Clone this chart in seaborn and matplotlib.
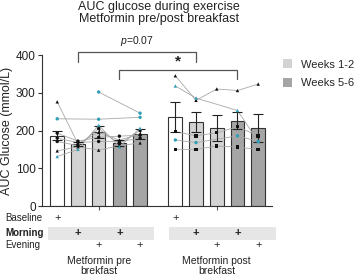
import numpy as np
import pandas as pd
import matplotlib.pyplot as plt
import matplotlib.transforms as mtransforms
from matplotlib.patches import Patch, Rectangle
import seaborn as sns

sns.set_style("ticks")
plt.rcParams['font.family'] = ['Liberation Sans', 'DejaVu Sans']
plt.rcParams['mathtext.fontset'] = 'custom'
plt.rcParams['mathtext.it'] = 'Liberation Sans:italic'
plt.rcParams['mathtext.rm'] = 'Liberation Sans'

# conditions in each group: baseline, weeks 1-2 morning/evening, weeks 5-6 morning/evening
conditions = ["Baseline", "W12 morning", "W12 evening", "W56 morning", "W56 evening"]
group_labels = ["Metformin pre\nbrekfast", "Metformin post\nbrekfast"]

# bar means and error bar ends (mmol/L)
pre_mean = [186, 164, 195, 166, 192]
pre_low = [175, 158, 180, 160, 178]
pre_high = [200, 170, 212, 175, 205]
post_mean = [237, 222, 206, 224, 206]
post_low = [195, 197, 172, 204, 169]
post_high = [275, 250, 240, 248, 245]

# individual participants, pre breakfast group
pre_s1 = [276, 165, 195, 175, 190]
pre_s2 = [231, np.nan, 230, np.nan, 235]
pre_s3 = [np.nan, np.nan, 302, np.nan, 246]
pre_s4 = [193, 172, 182, 185, 188]
pre_s5 = [180, 168, 171, 170, 180]
pre_s6 = [171, 160, 205, 165, 200]
pre_s7 = [146, 157, 148, 160, 167]
pre_s8 = [131, 150, 214, 157, 206]
# individual participants, post breakfast group
post_s1 = [345, 280, 310, 306, 323]
post_s2 = [318, 286, np.nan, 253, 171]
post_s3 = [197, 186, 194, 210, 186]
post_s4 = [175, 168, np.nan, 186, 171]
post_s5 = [150, 150, 159, 156, 150]

pre_subjects = [pre_s1, pre_s2, pre_s3, pre_s4, pre_s5, pre_s6, pre_s7, pre_s8]
post_subjects = [post_s1, post_s2, post_s3, post_s4, post_s5]
pre_style = [("k", "^"), ("t", "o"), ("t", "o"), ("k", "o"), ("k", "o"),
             ("k", "o"), ("k", "^"), ("t", "^")]
post_style = [("k", "^"), ("t", "^"), ("k", "s"), ("t", "o"), ("k", "s")]

# x positions: bars 1 unit apart, gap between the groups
pos_pre = np.arange(5) * 1.0
pos_post = np.arange(5) + 5.7
positions = np.concatenate([pos_pre, pos_post])

bars = pd.DataFrame({
    "pos": positions,
    "mean": pre_mean + post_mean,
    "cond": conditions * 2,
})

rows = []
for g, (subs, styles, pos) in enumerate([(pre_subjects, pre_style, pos_pre),
                                         (post_subjects, post_style, pos_post)]):
    for i, (vals, (c, m)) in enumerate(zip(subs, styles)):
        for p, v in zip(pos, vals):
            rows.append({"subj": f"{g}_{i}", "pos": p, "val": v, "col": c, "mk": m})
pts = pd.DataFrame(rows)

bar_colors = {"Baseline": "white", "W12 morning": "#d3d3d3", "W12 evening": "#d3d3d3",
              "W56 morning": "#a5a5a5", "W56 evening": "#a5a5a5"}

fig = plt.figure(figsize=(3.58, 2.76), dpi=100)
ax = fig.add_axes([0.117, 0.2536, 0.643, 0.547])

sns.barplot(data=bars, x="pos", y="mean", hue="cond", palette=bar_colors,
            native_scale=True, dodge=False, width=0.66, errorbar=None,
            edgecolor="#333333", linewidth=0.8, legend=False, ax=ax, zorder=1)

lines = pts.dropna()
sns.lineplot(data=lines, x="pos", y="val", units="subj", estimator=None,
             color="#a8a8a8", lw=0.6, sort=True, ax=ax, zorder=2, legend=False)

low = np.array(pre_low + post_low)
high = np.array(pre_high + post_high)
means = np.array(pre_mean + post_mean)
ax.errorbar(positions, means, yerr=[means - low, high - means], fmt="none",
            ecolor="#222222", elinewidth=0.8, capsize=3.5, capthick=0.8, zorder=3)

sns.scatterplot(data=lines, x="pos", y="val", hue="col", style="mk",
                palette={"k": "#111111", "t": "#2f9fb5"},
                markers={"o": "o", "^": "^", "s": "s"}, s=6, linewidth=0,
                legend=False, ax=ax, zorder=4)

ax.set_xlim(-0.74, 10.37)
ax.set_ylim(0, 400)
ax.set_yticks([0, 100, 200, 300, 400])
ax.set_xticks([2, 7.7])
ax.set_xticklabels([])
ax.tick_params(axis="y", labelsize=8.5, length=3, width=0.8, pad=1.5, colors="#333333",
               labelcolor="#222222")
ax.tick_params(axis="x", length=3, width=0.8, colors="#555555")
ax.set_xlabel("")
ax.set_ylabel("AUC Glucose (mmol/L)", fontsize=9, labelpad=2, color="#222222")
sns.despine(ax=ax)
for s in ["left", "bottom"]:
    ax.spines[s].set_linewidth(0.8)
    ax.spines[s].set_color("#333333")

# significance brackets
bc = "#555555"
ax.plot([1, 1, 6.7, 6.7], [381, 409, 409, 381], color=bc, lw=0.9, clip_on=False)
ax.text(3.85, 436, "$\\it{p}$=0.07", ha="center", va="center", fontsize=7.5, color="#222222")
ax.plot([3, 3, 8.7, 8.7], [337, 361, 361, 337], color=bc, lw=0.9, clip_on=False)
ax.text(5.85, 383, "*", ha="center", va="center", fontsize=11, fontweight="bold", color="#222222")

# condition table below the axis
tr = mtransforms.blended_transform_factory(ax.transData, fig.transFigure)
for x0, x1 in [(-0.45, 4.67), (5.4, 10.57)]:
    ax.add_patch(Rectangle((x0, 0.130), x1 - x0, 0.049, transform=tr,
                           color="#e6e6e6", clip_on=False, zorder=0, lw=0))
fig.text(0.014, 0.21, "Baseline", fontsize=7, va="center", color="#222222")
fig.text(0.014, 0.157, "Morning", fontsize=7, va="center", fontweight="bold", color="#222222")
fig.text(0.014, 0.112, "Evening", fontsize=7, va="center", color="#222222")
rows_y = {"Baseline": 0.21, "morning": 0.157, "evening": 0.112}
for pos in [pos_pre, pos_post]:
    for p, c in zip(pos, conditions):
        key = "Baseline" if c == "Baseline" else c.split()[1]
        ax.text(p, rows_y[key], "+", transform=tr, ha="center", va="center",
                fontsize=8, fontweight="bold" if key == "morning" else "normal",
                color="#222222", clip_on=False)
for pos, lab in zip([pos_pre, pos_post], group_labels):
    ax.text(pos[2], 0.035, lab, transform=tr, ha="center", va="center",
            fontsize=7.5, linespacing=1.0, color="#222222")

fig.text(0.445, 0.995, "AUC glucose during exercise\nMetformin pre/post breakfast",
         ha="center", va="top", fontsize=9, linespacing=1.0, color="#222222")

handles = [Patch(facecolor="#d3d3d3", edgecolor="none", label="Weeks 1-2"),
           Patch(facecolor="#a5a5a5", edgecolor="none", label="Weeks 5-6")]
fig.legend(handles=handles, loc="upper left", bbox_to_anchor=(0.79, 0.785),
           frameon=False, fontsize=8, handlelength=0.85, handleheight=0.85,
           handletextpad=0.8, labelspacing=0.75, borderpad=0, borderaxespad=0)

fig.savefig("out.png", dpi=100)
